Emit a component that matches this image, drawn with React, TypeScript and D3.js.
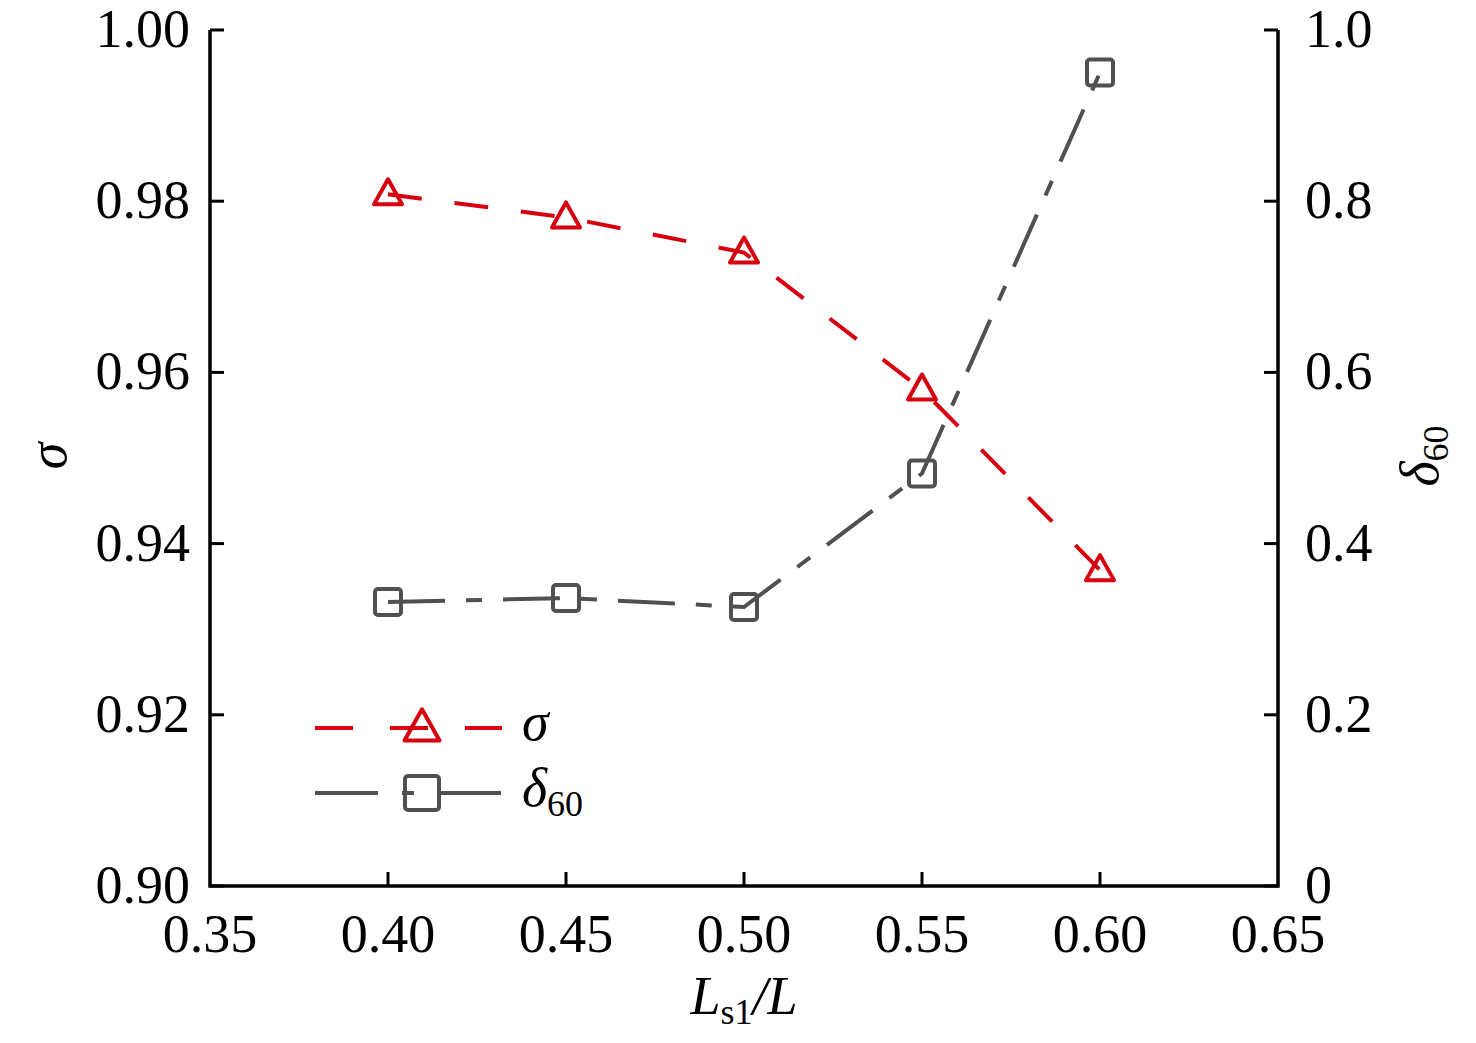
import React from "react";
import * as d3 from "d3";

const ratios = [0.4, 0.45, 0.5, 0.55, 0.6];
const sigmaValues = [0.9808, 0.9781, 0.9740, 0.9580, 0.9369];
const deltaValues = [0.3318, 0.3364, 0.3259, 0.4819, 0.9503];
const xTicks = [0.35, 0.4, 0.45, 0.5, 0.55, 0.6, 0.65];
const leftTicks = [0.9, 0.92, 0.94, 0.96, 0.98, 1.0];
const rightTicks = [0, 0.2, 0.4, 0.6, 0.8, 1.0];

const W = 1476;
const H = 1043;
const M = { left: 210, right: 1278, top: 30, bottom: 886 };
const RED = "#d7000f";
const GRAY = "#505050";
const FONT = "Liberation Serif, Tinos, Times New Roman, Times, DejaVu Serif, serif";
const FS = 54;
const SUB = 36;

export default function App() {
  const x = d3.scaleLinear().domain([0.35, 0.65]).range([M.left, M.right]);
  const yL = d3.scaleLinear().domain([0.9, 1.0]).range([M.bottom, M.top]);
  const yR = d3.scaleLinear().domain([0, 1.0]).range([M.bottom, M.top]);

  const sigmaPts: [number, number][] = ratios.map((r, i) => [x(r), yL(sigmaValues[i])]);
  const deltaPts: [number, number][] = ratios.map((r, i) => [x(r), yR(deltaValues[i])]);
  const line = d3.line();

  const tri = (cx: number, cy: number, s = 1) =>
    `M${cx},${cy - 15 * s}L${cx + 14 * s},${cy + 10 * s}L${cx - 14 * s},${cy + 10 * s}Z`;

  return (
    <svg width={W} height={H} style={{ position: "absolute", left: 0, top: 0, background: "#fff", fontFamily: FONT }}>
      <rect x={0} y={0} width={W} height={H} fill="#fff" />
      {/* data lines */}
      <path d={line(deltaPts) || ""} fill="none" stroke={GRAY} strokeWidth={4}
        strokeDasharray="57,21,16,21" />
      <path d={line(sigmaPts) || ""} fill="none" stroke={RED} strokeWidth={4}
        strokeDasharray="34,33" />
      {/* markers */}
      {deltaPts.map(([cx, cy], i) => (
        <rect key={"s" + i} x={cx - 13} y={cy - 13} width={26} height={26} rx={3}
          fill="none" stroke={GRAY} strokeWidth={4} />
      ))}
      {sigmaPts.map(([cx, cy], i) => (
        <path key={"t" + i} d={tri(cx, cy)} fill="none" stroke={RED} strokeWidth={4}
          strokeLinejoin="round" />
      ))}

      {/* axes */}
      <path d={`M${M.left},${M.top}V${M.bottom}H${M.right}V${M.top}`} fill="none"
        stroke="#000" strokeWidth={3.5} />
      {leftTicks.map((t) => (
        <g key={"l" + t}>
          <line x1={M.left} x2={M.left + 14} y1={yL(t)} y2={yL(t)} stroke="#000" strokeWidth={3} />
          <text x={M.left - 20} y={yL(t) + 17} textAnchor="end" fontSize={FS}>{t.toFixed(2)}</text>
        </g>
      ))}
      {rightTicks.map((t) => (
        <g key={"r" + t}>
          <line x1={M.right - 14} x2={M.right} y1={yR(t)} y2={yR(t)} stroke="#000" strokeWidth={3} />
          <text x={M.right + 27} y={yR(t) + 17} textAnchor="start" fontSize={FS}>
            {t === 0 ? "0" : t.toFixed(1)}
          </text>
        </g>
      ))}
      {xTicks.map((t) => (
        <g key={"x" + t}>
          {t > 0.36 && t < 0.64 && (
            <line x1={x(t)} x2={x(t)} y1={M.bottom} y2={M.bottom - 14} stroke="#000" strokeWidth={3} />
          )}
          <text x={x(t)} y={952} textAnchor="middle" fontSize={FS}>{t.toFixed(2)}</text>
        </g>
      ))}

      {/* axis titles */}
      <text x={744} y={1014} textAnchor="middle" fontSize={FS}>
        <tspan fontStyle="italic">L</tspan>
        <tspan fontSize={SUB} dy={10}>s1</tspan>
        <tspan dy={-10} fontStyle="italic">/L</tspan>
      </text>
      <text transform="translate(66,456) rotate(-90)" textAnchor="middle" fontSize={FS}
        fontStyle="italic">σ</text>
      <text transform="translate(1438,456) rotate(-90)" textAnchor="middle" fontSize={FS}>
        <tspan fontStyle="italic">δ</tspan>
        <tspan fontSize={SUB} dy={10}>60</tspan>
      </text>

      {/* legend */}
      <line x1={315} x2={502} y1={728} y2={728} stroke={RED} strokeWidth={4} strokeDasharray="38,37" />
      <path d={tri(422, 728, 1.25)} fill="none" stroke={RED} strokeWidth={4}
        strokeLinejoin="round" />
      <text x={522} y={740} fontSize={FS} fontStyle="italic">σ</text>
      <line x1={315} x2={502} y1={793} y2={793} stroke={GRAY} strokeWidth={4}
        strokeDasharray="63,24,12,24" />
      <rect x={405} y={776} width={34} height={34} rx={3} fill="none" stroke={GRAY} strokeWidth={4} />
      <text x={522} y={806} fontSize={FS}>
        <tspan fontStyle="italic">δ</tspan>
        <tspan fontSize={SUB} dy={10}>60</tspan>
      </text>
    </svg>
  );
}
